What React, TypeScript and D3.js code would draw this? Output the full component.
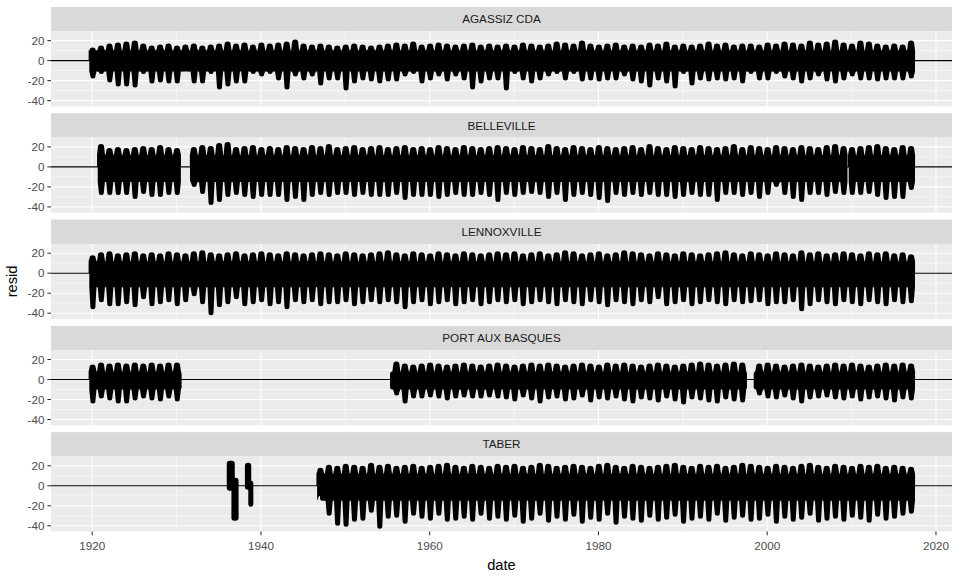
import React from "react";
import * as d3 from "d3";

// ---------- axis definitions ----------
const STATIONS = ["AGASSIZ CDA", "BELLEVILLE", "LENNOXVILLE", "PORT AUX BASQUES", "TABER"];
const X_TICKS = [1920, 1940, 1960, 1980, 2000, 2020];
const X_MINOR = [1930, 1950, 1970, 1990, 2010];
const Y_TICKS = [20, 0, -20, -40];
const Y_MINOR = [10, -10, -30];
const X_DOMAIN = [1915.12, 2021.9];
const Y_DOMAIN = [-45.7, 29.3];

// ---------- data ----------
// coverage segments [start, end] in decimal years
const AGASSIZ_SEG = [[1919.95, 2017.2]];
const BELLEVILLE_SEG = [[1920.7, 1930.35], [1931.6, 2009.4], [2009.75, 2017.2]];
const LENNOXVILLE_SEG = [[1919.9, 2017.2]];
const PORT_SEG = [[1919.9, 1930.6], [1955.3, 1997.6], [1998.4, 2017.2]];
const TABER_SEG = [[1947.0, 2017.2]];

// typical summer (non-winter) range of residuals [low, high]
const AGASSIZ_BAND = [-11, 10];
const BELLEVILLE_BAND = [-15, 12];
const LENNOXVILLE_BAND = [-14, 12];
const PORT_BAND = [-10, 8];
const TABER_BAND = [-15, 12];

// winter extremes per year (lowest / highest residual)
const AGASSIZ_LOW = [
  -18, -13, -22, -26, -26, -27, -13, -23, -22, -23, -23, -11, -23, -23, -13, -29, -26, -23, -23, -13,
  -16, -13, -20, -29, -16, -20, -16, -25, -20, -20, -30, -23, -20, -21, -23, -21, -21, -16, -13, -23,
  -20, -16, -21, -16, -20, -29, -23, -20, -20,
  -30, -13, -20, -23, -20, -16, -13, -20, -13, -21, -20, -21, -20, -20, -16, -21, -23, -27, -20, -23,
  -28, -13, -25, -20, -21, -20, -21, -20, -23, -13, -20, -20, -13, -18, -20, -23, -20, -16, -21, -23,
  -20, -16, -20, -20, -21, -20, -20, -20, -18,
];
const AGASSIZ_HIGH = [
  10, 15, 17, 18, 19, 20, 17, 15, 16, 17, 15, 16, 17, 15, 16, 17, 19, 17, 18, 16,
  18, 17, 18, 19, 21, 17, 16, 17, 16, 15, 16, 17, 16, 15, 16, 17, 18, 17, 19, 16,
  17, 18, 17, 16, 17, 18, 16, 17, 16,
  17, 16, 18, 17, 16, 17, 19, 18, 17, 20, 17, 16, 17, 18, 16, 17, 16, 18, 17, 19,
  16, 17, 16, 17, 19, 17, 18, 16, 17, 17, 16, 18, 17, 19, 18, 17, 20, 18, 19, 21,
  18, 17, 20, 19, 17, 16, 17, 16, 20,
];

const BELLEVILLE_LOW_1921 = [-28, -28, -28, -28, -32, -27, -30, -30, -28, -28];
const BELLEVILLE_HIGH_1921 = [23, 19, 20, 19, 20, 21, 20, 22, 20, 19];
const BELLEVILLE_LOW_1932 = [
  -20, -27, -38, -35, -30, -28, -30, -32, -30, -30, -30, -35, -32, -35, -30, -28, -30, -28, -28, -30,
  -28, -30, -30, -30, -28, -33, -30, -30, -30, -32, -30, -28, -30, -30, -28, -30, -35,
  -28, -30, -28, -27, -28, -32, -28, -35, -30, -28, -30, -33, -36, -28, -30, -28, -30, -28, -30, -30,
  -32, -30, -28, -30, -30, -35, -28, -28, -30, -28, -32, -28, -20, -28, -32, -35, -28, -28, -30, -27,
  -28, -28, -28, -27, -30, -33, -32, -32, -23,
];
const BELLEVILLE_HIGH_1932 = [
  20, 22, 21, 24, 25, 20, 21, 22, 20, 21, 20, 22, 21, 20, 22, 21, 23, 20, 21, 22,
  20, 21, 22, 20, 21, 22, 20, 21, 20, 22, 21, 20, 22, 21, 20, 21, 22,
  21, 20, 22, 21, 20, 23, 21, 20, 22, 21, 20, 22, 21, 20, 21, 22, 20, 23, 21, 20,
  22, 21, 20, 22, 21, 20, 21, 23, 20, 22, 21, 20, 22, 21, 20, 22, 21, 20, 22, 23,
  21, 20, 21, 22, 23, 21, 20, 22, 21,
];

const LENNOXVILLE_LOW = [
  -36, -29, -33, -33, -31, -34, -26, -33, -31, -29, -33, -29, -23, -31, -42, -34, -31, -26, -33, -31,
  -29, -33, -31, -36, -29, -31, -29, -33, -31, -31, -29, -33, -31, -29, -31, -29, -31, -36, -31, -29,
  -33, -31, -29, -33, -31, -29, -33, -31, -29,
  -31, -29, -33, -31, -29, -31, -33, -29, -31, -33, -29, -31, -34, -29, -31, -33, -29, -31, -26, -33,
  -31, -29, -33, -31, -29, -31, -33, -29, -31, -30, -29, -33, -31, -31, -29, -38, -33, -29, -31, -33,
  -29, -31, -33, -29, -31, -33, -29, -31, -30,
];
const LENNOXVILLE_HIGH = [
  18, 21, 22, 20, 21, 22, 20, 21, 20, 22, 21, 20, 22, 23, 21, 20, 21, 22, 20, 21,
  22, 21, 20, 22, 21, 20, 21, 22, 21, 20, 22, 21, 20, 21, 22, 23, 21, 20, 22, 21,
  20, 22, 21, 20, 22, 21, 20, 21, 22,
  21, 22, 20, 21, 22, 20, 21, 23, 22, 20, 21, 22, 20, 21, 23, 22, 21, 20, 22, 21,
  20, 22, 21, 20, 21, 22, 23, 21, 20, 22, 21, 20, 22, 21, 20, 23, 21, 22, 20, 21,
  22, 21, 20, 22, 21, 22, 20, 21, 19,
];

const PORT_LOW_1920 = [-24, -19, -21, -24, -24, -21, -19, -21, -22, -19, -22];
const PORT_HIGH_1920 = [15, 17, 16, 17, 16, 17, 16, 17, 16, 17, 17];
const PORT_LOW_1956 = [
  -16, -24, -19, -19, -18, -19, -21, -19, -18, -19, -19, -18, -19,
  -20, -22, -18, -21, -24, -20, -19, -22, -21, -18, -23, -20, -21, -19, -22, -24, -20, -21, -23, -19,
  -22, -25, -20, -21, -23, -24, -20, -22, -23,
];
const PORT_HIGH_1956 = [
  18, 16, 15, 16, 17, 16, 15, 16, 17, 16, 15, 16, 17, 16, 15, 16, 17, 16, 17, 16,
  15, 16, 17, 16, 15, 17, 16, 17, 16, 15, 16, 17, 16, 15, 16, 17, 18, 17, 16, 17, 18, 17,
];
const PORT_LOW_1999 = [-16, -19, -20, -18, -21, -24, -20, -19, -18, -20, -21, -19, -22, -20, -19, -21, -23, -20, -21];
const PORT_HIGH_1999 = [16, 17, 16, 15, 16, 17, 16, 15, 16, 17, 16, 17, 16, 15, 16, 17, 16, 17, 16];

const TABER_LOW = [
  -10, -30, -40, -41, -36, -35, -27, -43, -33, -32, -38, -30, -33, -35, -30, -36, -35, -33, -36, -30, -35, -33,
  -36, -32, -38, -35, -30, -37, -33, -36, -31, -38, -34, -36, -30, -39, -33, -35, -37, -32, -36, -34,
  -31, -38, -35, -33, -36, -30, -37, -34, -32, -36, -35, -31, -38, -33, -36, -34, -30, -37, -35, -33,
  -36, -32, -34, -37, -31, -35, -33, -30, -28,
];
const TABER_HIGH = [
  18, 21, 20, 22, 21, 20, 23, 21, 22, 20, 21, 22, 20, 21, 22, 23, 21, 20, 22, 21, 20, 22,
  21, 22, 20, 21, 23, 22, 20, 21, 22, 21, 20, 22, 23, 21, 20, 22, 21, 20, 21, 22,
  23, 21, 20, 22, 21, 22, 20, 21, 23, 22, 21, 20, 22, 21, 20, 22, 23, 21, 20, 22,
  21, 20, 22, 21, 22, 20, 21, 20, 19,
];
// Taber's two short early records: [start, end, low, high]
const TABER_EARLY = [
  [1935.95, 1936.9, -5, 25],
  [1936.5, 1937.35, -35, 8],
  [1938.1, 1938.85, -4, 23],
  [1938.5, 1939.1, -21, 5],
];

// ---------- table built from the arrays ----------
type Block = { from: number; low: number[]; high: number[] };
const TABLE: { name: string; seg: number[][]; band: number[]; blocks: Block[]; extra: number[][] }[] = [
  { name: STATIONS[0], seg: AGASSIZ_SEG, band: AGASSIZ_BAND, blocks: [{ from: 1920, low: AGASSIZ_LOW, high: AGASSIZ_HIGH }], extra: [] },
  {
    name: STATIONS[1], seg: BELLEVILLE_SEG, band: BELLEVILLE_BAND,
    blocks: [
      { from: 1921, low: BELLEVILLE_LOW_1921, high: BELLEVILLE_HIGH_1921 },
      { from: 1932, low: BELLEVILLE_LOW_1932, high: BELLEVILLE_HIGH_1932 },
    ],
    extra: [],
  },
  { name: STATIONS[2], seg: LENNOXVILLE_SEG, band: LENNOXVILLE_BAND, blocks: [{ from: 1920, low: LENNOXVILLE_LOW, high: LENNOXVILLE_HIGH }], extra: [] },
  {
    name: STATIONS[3], seg: PORT_SEG, band: PORT_BAND,
    blocks: [
      { from: 1920, low: PORT_LOW_1920, high: PORT_HIGH_1920 },
      { from: 1956, low: PORT_LOW_1956, high: PORT_HIGH_1956 },
      { from: 1999, low: PORT_LOW_1999, high: PORT_HIGH_1999 },
    ],
    extra: [],
  },
  { name: STATIONS[4], seg: TABER_SEG, band: TABER_BAND, blocks: [{ from: 1947, low: TABER_LOW, high: TABER_HIGH }], extra: TABER_EARLY },
];

// ---------- layout ----------
const W = 960, H = 576;
const LEFT = 51, RIGHT = 952;
const TOP0 = 7, STEP = 106.3, STRIP_H = 24.3, PLOT_H = 75;
const FONT = "'Liberation Sans', Arial, Helvetica, sans-serif";

// tapered spike with a round tip: base at yBase (width wBase), tip at yTip (width wTip)
function spike(cx: number, yStart: number, yBase: number, yTip: number, wBase: number, wTip: number) {
  const dir = yTip > yBase ? 1 : -1; // 1 = downward
  const r = wTip / 2;
  let yCap = yTip - dir * r;
  if ((yCap - yBase) * dir < 0) yCap = yBase;
  const sweep = dir > 0 ? 0 : 1;
  return (
    `M${cx - wBase / 2},${yStart}` +
    `L${cx - wBase / 2},${yBase}` +
    `L${cx - r},${yCap}` +
    `A${r},${r} 0 0 ${sweep} ${cx + r},${yCap}` +
    `L${cx + wBase / 2},${yBase}` +
    `L${cx + wBase / 2},${yStart}Z`
  );
}

export default function App() {
  const x = d3.scaleLinear().domain(X_DOMAIN).range([LEFT, RIGHT]);
  const lastBottom = TOP0 + 4 * STEP + STRIP_H + PLOT_H;

  return (
    <svg width={W} height={H} style={{ position: "absolute", left: 0, top: 0, background: "#fff" }} fontFamily={FONT}>
      <rect x={0} y={0} width={W} height={H} fill="#fff" />
      <defs>
        {TABLE.map((_, i) => {
          const pt = TOP0 + i * STEP + STRIP_H;
          return (
            <clipPath id={`clip${i}`} key={i}>
              <rect x={LEFT} y={pt} width={RIGHT - LEFT} height={PLOT_H} />
            </clipPath>
          );
        })}
      </defs>
      {TABLE.map((st, i) => {
        const top = TOP0 + i * STEP;
        const pt = top + STRIP_H;
        const pb = pt + PLOT_H;
        const y = d3.scaleLinear().domain(Y_DOMAIN).range([pb, pt]);
        const [bLow, bHigh] = st.band;
        const cols: { yr: number; lo: number; hi: number }[] = [];
        st.blocks.forEach((b) => b.low.forEach((lo, k) => cols.push({ yr: b.from + k, lo, hi: b.high[k] })));
        return (
          <g key={st.name}>
            {/* strip */}
            <rect x={LEFT} y={top} width={RIGHT - LEFT} height={STRIP_H} fill="#D9D9D9" />
            <text x={(LEFT + RIGHT) / 2} y={top + STRIP_H / 2} dy="0.35em" textAnchor="middle" fontSize={11.7} fill="#1A1A1A">
              {st.name}
            </text>
            {/* panel */}
            <rect x={LEFT} y={pt} width={RIGHT - LEFT} height={PLOT_H} fill="#EBEBEB" />
            {Y_MINOR.map((v) => (
              <line key={"ym" + v} x1={LEFT} x2={RIGHT} y1={y(v)} y2={y(v)} stroke="#fff" strokeWidth={0.55} />
            ))}
            {X_MINOR.map((v) => (
              <line key={"xm" + v} x1={x(v)} x2={x(v)} y1={pt} y2={pb} stroke="#fff" strokeWidth={0.55} />
            ))}
            {Y_TICKS.map((v) => (
              <line key={"yM" + v} x1={LEFT} x2={RIGHT} y1={y(v)} y2={y(v)} stroke="#fff" strokeWidth={1.1} />
            ))}
            {X_TICKS.map((v) => (
              <line key={"xM" + v} x1={x(v)} x2={x(v)} y1={pt} y2={pb} stroke="#fff" strokeWidth={1.1} />
            ))}
            <line x1={LEFT} x2={RIGHT} y1={y(0)} y2={y(0)} stroke="#000" strokeWidth={1.1} />
            <g clipPath={`url(#clip${i})`} fill="#000">
              {st.seg.map((s, k) => (
                <rect key={"s" + k} x={x(s[0])} width={x(s[1]) - x(s[0])} y={y(bHigh)} height={y(bLow) - y(bHigh)} rx={2.2} />
              ))}
              {cols.map((c) => {
                const cx = x(c.yr + 0.05);
                return (
                  <g key={"c" + c.yr}>
                    <path d={spike(cx, y(0), y(bHigh), y(c.hi), 8.0, 6.2)} />
                    <path d={spike(cx + 0.3, y(0), y(bLow), y(c.lo), 7.2, 5.0)} />
                  </g>
                );
              })}
              {st.extra.map((e, k) => (
                <rect key={"e" + k} x={x(e[0])} width={x(e[1]) - x(e[0])} y={y(e[3])} height={y(e[2]) - y(e[3])} rx={3} />
              ))}
            </g>
            {/* y axis */}
            {Y_TICKS.map((v) => (
              <g key={"yt" + v}>
                <line x1={LEFT - 3.65} x2={LEFT} y1={y(v)} y2={y(v)} stroke="#333" strokeWidth={1.07} />
                <text x={LEFT - 6.5} y={y(v)} dy="0.35em" textAnchor="end" fontSize={11.7} fill="#4D4D4D">
                  {String(v)}
                </text>
              </g>
            ))}
          </g>
        );
      })}
      {/* x axis */}
      {X_TICKS.map((v) => (
        <g key={"xt" + v}>
          <line x1={x(v)} x2={x(v)} y1={lastBottom} y2={lastBottom + 3.65} stroke="#333" strokeWidth={1.07} />
          <text x={x(v)} y={lastBottom + 18.8} textAnchor="middle" fontSize={11.7} fill="#4D4D4D">
            {String(v)}
          </text>
        </g>
      ))}
      <text x={(LEFT + RIGHT) / 2} y={570} textAnchor="middle" fontSize={14.7} fill="#000">
        date
      </text>
      <text transform={`translate(17, ${(TOP0 + STRIP_H + lastBottom) / 2}) rotate(-90)`} textAnchor="middle" fontSize={14.7} fill="#000">
        resid
      </text>
    </svg>
  );
}
